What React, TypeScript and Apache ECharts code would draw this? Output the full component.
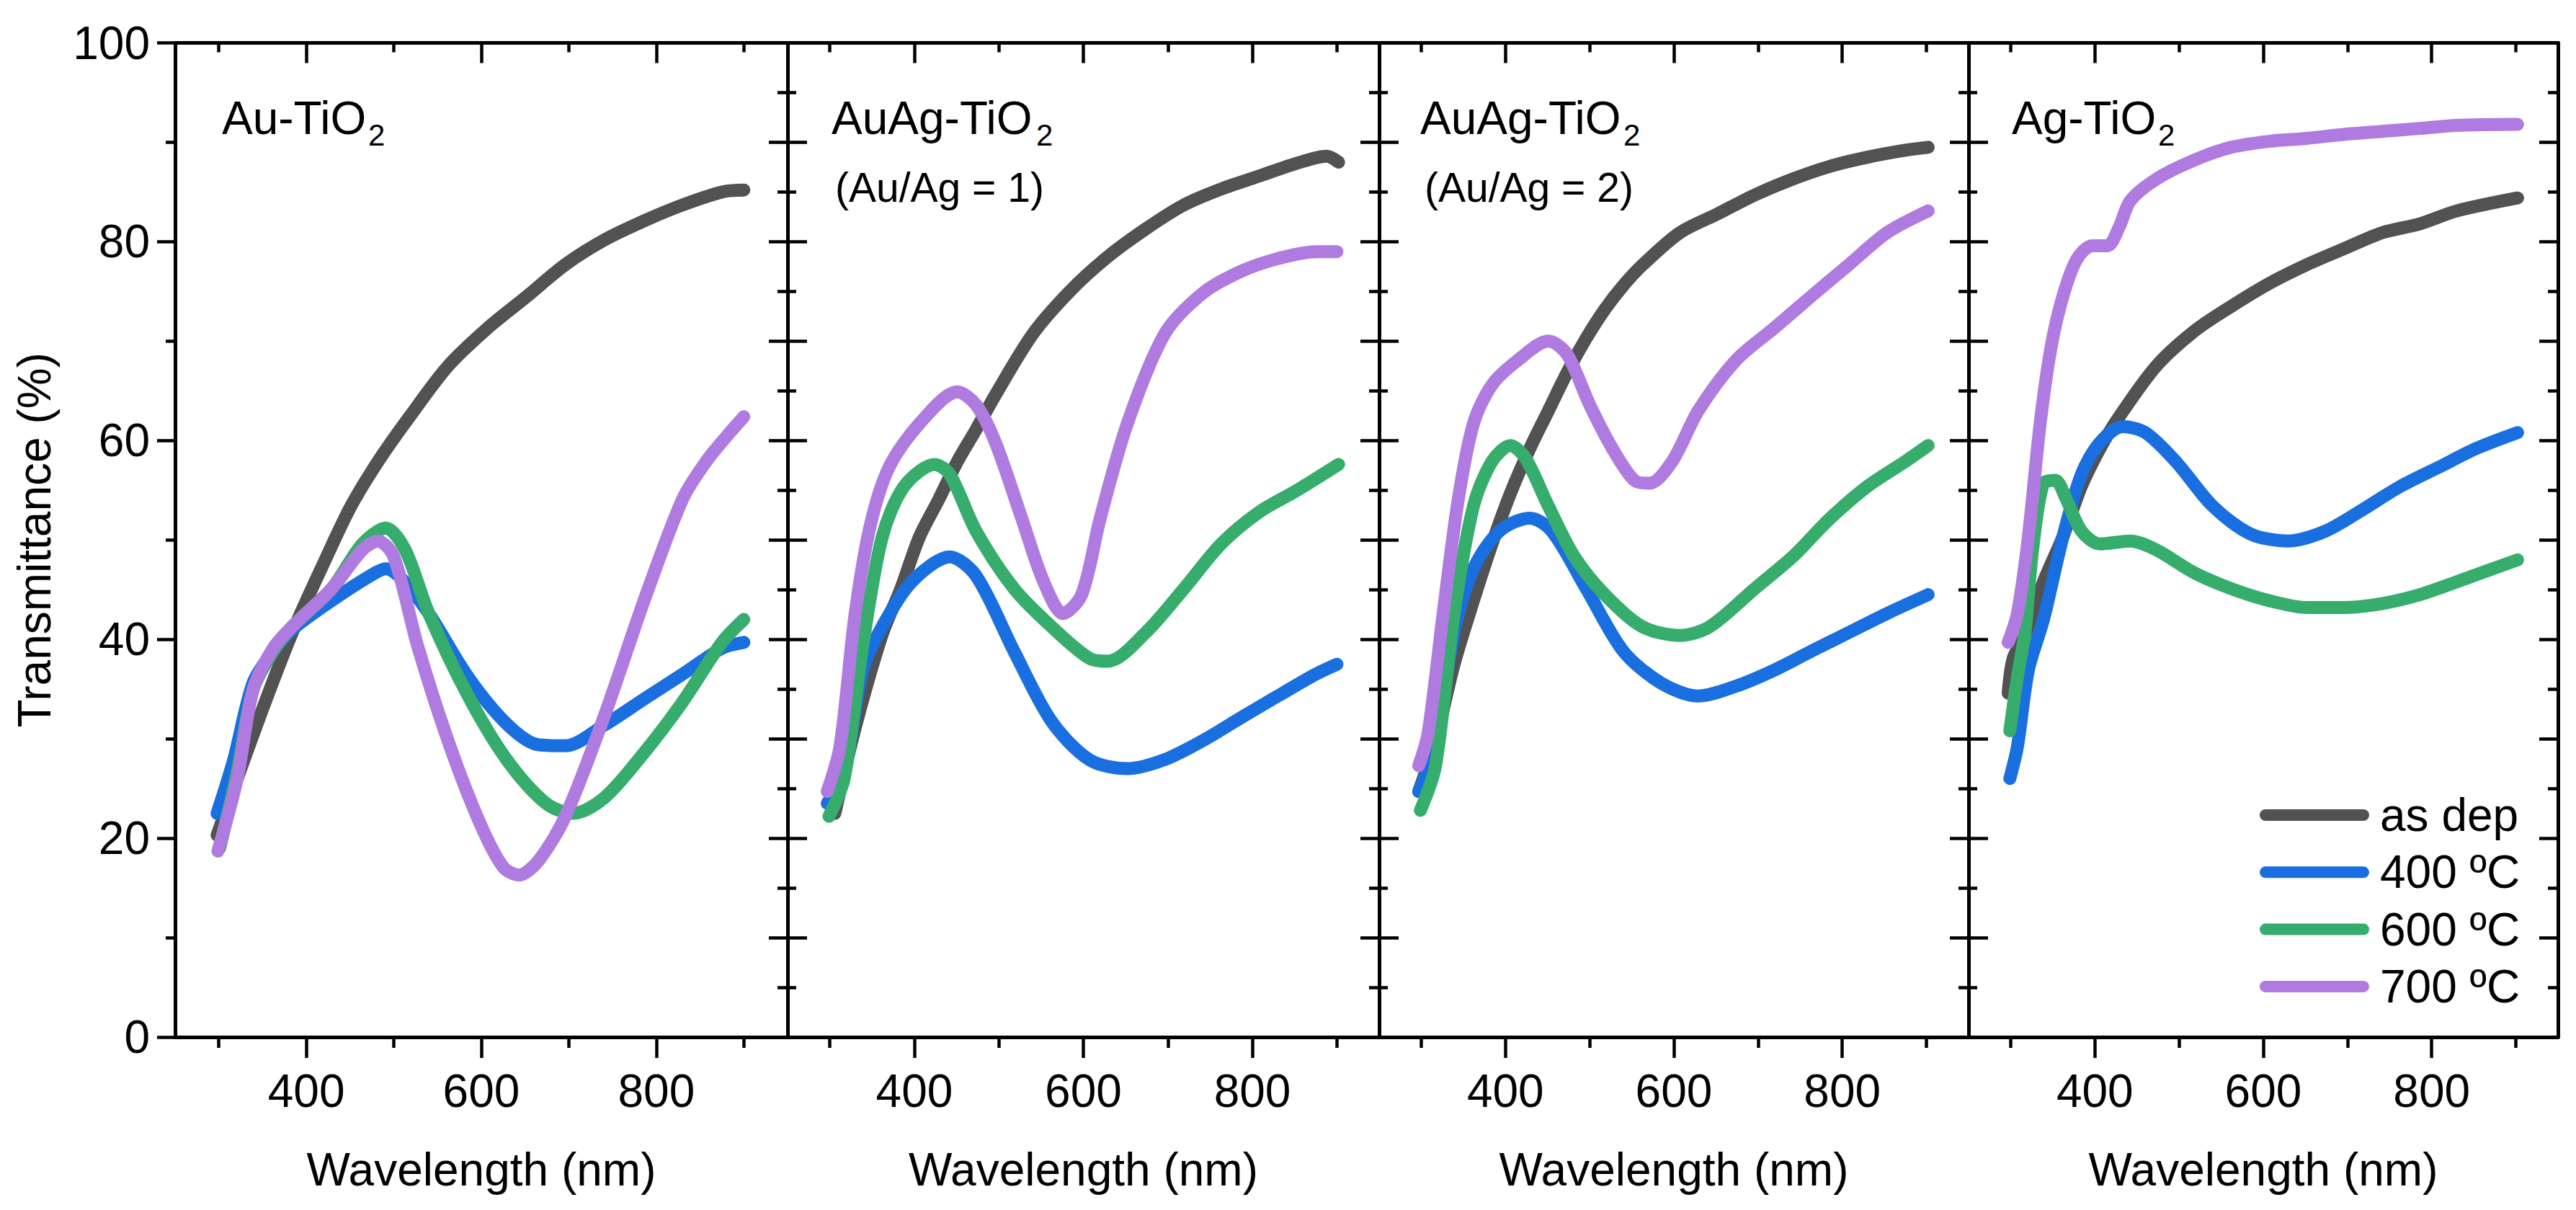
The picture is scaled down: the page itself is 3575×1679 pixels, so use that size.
import React, { useEffect, useRef } from "react";
import * as echarts from "echarts";

// ---------- data ----------
const SERIES_NAMES = ["as dep", "400 ºC", "600 ºC", "700 ºC"];
const SERIES_COLORS = ["#525252", "#1a6fe0", "#36ad6c", "#b07be0"];
const PANEL_TITLES = ["Au-TiO", "AuAg-TiO", "AuAg-TiO", "Ag-TiO"];
const PANEL_SUBSCRIPT = "2";
const PANEL_SUBTITLES = ["", "(Au/Ag = 1)", "(Au/Ag = 2)", ""];
const X_MIN = 250;
const X_MAX = 950;
const X_MAJOR = [400, 600, 800];
const X_MINOR = [300, 500, 700, 900];
const Y_MIN = 0;
const Y_MAX = 100;
const X_LABEL = "Wavelength (nm)";
const Y_LABEL = "Transmittance (%)";

// Panel 1: Au-TiO2
const auAsDep = [[298,20.3],[321,26.0],[353,33.7],[384,40.7],[420,47.7],[451,53.4],[482,57.9],[518,62.4],[562,67.5],[607,71.3],[652,74.5],[696,77.7],[741,80.2],[786,82.1],[830,83.7],[875,85.0],[900,85.2]];
const au400 = [[298,22.5],[317,27.9],[339,35.6],[362,38.8],[384,41.0],[429,43.9],[473,46.4],[491,47.1],[509,46.1],[540,42.6],[585,36.2],[629,31.5],[665,29.4],[696,29.3],[741,31.4],[786,34.0],[830,36.5],[875,39.1],[900,39.7]];
const au600 = [[301,19.0],[321,26.7],[339,34.9],[362,38.8],[384,41.3],[429,45.1],[464,49.6],[491,51.2],[513,49.0],[540,42.6],[585,34.3],[629,27.9],[674,23.5],[705,22.5],[741,24.1],[786,28.6],[830,33.7],[875,39.7],[900,42.0]];
const au700 = [[299,18.7],[321,26.0],[339,34.9],[362,39.1],[384,41.3],[429,45.1],[464,49.0],[482,49.9],[500,48.3],[527,39.4],[562,29.8],[598,21.6],[625,17.1],[643,16.3],[665,17.7],[696,22.2],[741,32.4],[786,43.9],[830,54.1],[857,57.9],[884,60.8],[900,62.4]];

// Panel 2: AuAg-TiO2 (Au/Ag = 1)
const r1AsDep = [[306,22.5],[330,31.1],[362,40.5],[384,45.1],[406,50.3],[429,54.1],[451,57.9],[473,61.1],[496,64.6],[540,70.7],[585,75.1],[629,78.5],[674,81.3],[719,83.7],[763,85.3],[808,86.6],[853,87.9],[888,88.6],[902,88.0]];
const r1400 = [[297,23.5],[317,26.7],[339,36.9],[362,41.3],[397,45.8],[442,48.3],[473,46.4],[518,38.8],[562,31.8],[607,27.9],[652,27.0],[696,27.9],[741,29.8],[786,32.1],[830,34.3],[875,36.5],[900,37.5]];
const r1600 = [[299,22.2],[317,26.0],[339,39.4],[362,50.3],[388,55.4],[424,57.6],[442,56.6],[473,50.9],[518,45.1],[562,41.3],[607,38.1],[629,37.8],[674,40.7],[719,45.1],[763,49.6],[808,52.8],[853,55.0],[902,57.6]];
const r1700 = [[297,24.7],[312,29.2],[330,42.6],[348,51.5],[370,57.3],[406,61.7],[451,64.9],[473,63.6],[496,59.8],[527,52.2],[553,45.8],[576,42.6],[598,44.5],[620,52.2],[652,61.7],[696,70.7],[741,74.8],[786,77.0],[830,78.3],[875,79.0],[900,79.0]];

// Panel 3: AuAg-TiO2 (Au/Ag = 2)
const r2AsDep = [[297,24.7],[317,29.8],[339,37.5],[362,43.9],[384,49.6],[406,54.7],[429,59.2],[451,63.0],[473,66.8],[496,70.3],[518,73.2],[540,75.6],[562,77.6],[607,80.9],[652,82.8],[696,84.7],[741,86.3],[786,87.6],[830,88.5],[875,89.2],[902,89.5]];
const r2400 = [[297,24.7],[317,29.2],[339,40.7],[362,47.1],[393,50.9],[429,52.2],[455,50.9],[496,45.1],[540,38.8],[585,35.6],[629,34.3],[674,35.3],[719,36.9],[763,38.8],[808,40.7],[853,42.6],[902,44.5]];
const r2600 = [[299,22.8],[317,27.3],[339,42.6],[362,53.4],[384,57.9],[406,59.5],[424,58.2],[451,53.4],[482,48.3],[518,44.5],[562,41.3],[607,40.4],[643,41.3],[696,45.1],[741,48.3],[786,52.2],[830,55.4],[875,57.9],[902,59.5]];
const r2700 = [[297,27.3],[308,30.5],[326,42.6],[344,54.1],[362,61.7],[384,65.6],[415,68.1],[451,70.0],[473,68.7],[500,63.6],[527,59.2],[553,56.0],[571,55.7],[598,57.9],[629,63.0],[674,68.1],[719,71.3],[763,74.5],[808,77.7],[853,80.9],[902,83.1]];

// Panel 4: Ag-TiO2
const agAsDep = [[297,34.6],[303,38.1],[317,40.4],[339,45.8],[362,50.3],[384,55.4],[406,59.2],[429,62.4],[473,67.5],[518,71.0],[562,73.5],[607,75.8],[652,77.7],[696,79.3],[741,80.9],[786,81.8],[830,83.1],[902,84.4]];
const ag400 = [[299,26.0],[308,29.2],[321,36.9],[339,42.0],[362,50.3],[384,56.6],[406,59.8],[433,61.4],[460,60.8],[496,57.9],[540,53.4],[585,50.6],[629,49.9],[674,50.9],[719,53.1],[763,55.4],[808,57.3],[853,59.2],[902,60.8]];
const ag600 = [[299,30.8],[308,36.2],[317,40.7],[326,49.0],[339,55.7],[353,56.0],[366,54.1],[384,50.9],[406,49.6],[442,49.9],[473,49.0],[518,46.7],[562,45.1],[607,43.9],[652,43.2],[696,43.2],[741,43.6],[786,44.5],[830,45.8],[902,48.0]];
const ag700 = [[297,39.7],[308,42.6],[321,50.3],[335,61.7],[348,69.4],[362,74.5],[379,78.3],[397,79.6],[415,79.6],[429,81.5],[442,84.1],[473,86.3],[518,88.2],[562,89.5],[607,90.1],[652,90.4],[696,90.8],[741,91.1],[786,91.4],[830,91.7],[902,91.8]];

const PANEL_DATA = [
  [auAsDep, au400, au600, au700],
  [r1AsDep, r1400, r1600, r1700],
  [r2AsDep, r2400, r2600, r2700],
  [agAsDep, ag400, ag600, ag700],
];

// ---------- layout / style ----------
const W = 3575;
const H = 1679;
const FONT = '"Liberation Sans", Arial, Helvetica, sans-serif';
const GRID_LEFT = [243, 1093, 1914, 2732];
const GRID_WIDTH = [850, 821, 818, 818];
const GRID_TOP = 59.5;
const GRID_HEIGHT = 1379.5;
const AXIS_W = 5;
const TICK_W = 4.5;
const LINE_W = 18;
const TITLE_X = [308, 1154, 1971, 2792];
const SUB_X = [511, 1438, 2253, 2995];
const SUBTITLE_X = [0, 1159, 1977, 0];

function buildOption() {
  const grid: any[] = [];
  const xAxis: any[] = [];
  const yAxis: any[] = [];
  const series: any[] = [];
  const graphic: any[] = [];

  const lineStyle = { color: "#000", width: AXIS_W };
  const tickStyle = { color: "#000", width: TICK_W };

  for (let g = 0; g < 4; g++) {
    grid.push({
      left: GRID_LEFT[g],
      top: GRID_TOP,
      width: GRID_WIDTH[g],
      height: GRID_HEIGHT,
      containLabel: false,
      outerBoundsMode: "none",
    });
    const baseX = {
      type: "value",
      gridIndex: g,
      min: X_MIN,
      max: X_MAX,
      splitLine: { show: false },
      minorTick: { show: false },
      minorSplitLine: { show: false },
    };
    xAxis.push({
      ...baseX,
      position: "bottom",
      axisLine: { show: true, onZero: false, lineStyle },
      axisTick: { show: true, inside: false, length: 29, lineStyle: tickStyle, customValues: X_MAJOR },
      axisLabel: {
        show: true,
        customValues: X_MAJOR,
        fontSize: 64,
        lineHeight: 64,
        fontFamily: FONT,
        color: "#000",
        margin: 43,
      },
      name: X_LABEL,
      nameLocation: "middle",
      nameGap: 152,
      nameTextStyle: { fontSize: 64, lineHeight: 64, fontFamily: FONT, color: "#000" },
    });
    xAxis.push({
      ...baseX,
      position: "bottom",
      axisLine: { show: false, onZero: false },
      axisTick: { show: true, inside: false, length: 15, lineStyle: tickStyle, customValues: X_MINOR },
      axisLabel: { show: false },
    });
    xAxis.push({
      ...baseX,
      position: "top",
      axisLine: { show: true, onZero: false, lineStyle },
      axisTick: { show: true, inside: true, length: 28, lineStyle: tickStyle, customValues: X_MAJOR },
      axisLabel: { show: false },
    });
    xAxis.push({
      ...baseX,
      position: "top",
      axisLine: { show: false, onZero: false },
      axisTick: { show: true, inside: true, length: 13, lineStyle: tickStyle, customValues: X_MINOR },
      axisLabel: { show: false },
    });

    const baseY = {
      type: "value",
      gridIndex: g,
      min: Y_MIN,
      max: Y_MAX,
      splitLine: { show: false },
      minorSplitLine: { show: false },
    };
    if (g === 0) {
      yAxis.push({
        ...baseY,
        position: "left",
        interval: 20,
        axisLine: { show: true, onZero: false, lineStyle },
        axisTick: { show: true, inside: false, length: 25, lineStyle: tickStyle },
        minorTick: { show: true, splitNumber: 2, length: 13, lineStyle: tickStyle },
        axisLabel: {
          show: true,
          fontSize: 64,
          lineHeight: 64,
          fontFamily: FONT,
          color: "#000",
          margin: 35,
        },
        name: Y_LABEL,
        nameLocation: "middle",
        nameGap: 163,
        nameTextStyle: { fontSize: 64, lineHeight: 64, fontFamily: FONT, color: "#000" },
      });
    } else {
      yAxis.push({
        ...baseY,
        position: "left",
        interval: 10,
        axisLine: { show: true, onZero: false, lineStyle },
        axisTick: { show: true, inside: true, length: 27, lineStyle: tickStyle },
        minorTick: { show: true, splitNumber: 2, length: 12, lineStyle: tickStyle },
        axisLabel: { show: false },
      });
    }
    yAxis.push({
      ...baseY,
      position: "right",
      interval: 10,
      axisLine: { show: true, onZero: false, lineStyle },
      axisTick: { show: true, inside: true, length: 26, lineStyle: tickStyle },
      minorTick: { show: true, splitNumber: 2, length: 14, lineStyle: tickStyle },
      axisLabel: { show: false },
    });

    PANEL_DATA[g].forEach((data, s) => {
      series.push({
        type: "line",
        name: SERIES_NAMES[s],
        xAxisIndex: 4 * g,
        yAxisIndex: 2 * g,
        data,
        symbol: "none",
        showSymbol: false,
        smooth: 0.3,
        color: SERIES_COLORS[s],
        itemStyle: { color: SERIES_COLORS[s] },
        lineStyle: { color: SERIES_COLORS[s], width: LINE_W, cap: "round", join: "round" },
        z: 3 + s,
        silent: true,
      });
    });

    graphic.push({
      type: "text",
      x: TITLE_X[g],
      y: 163.8,
      style: {
        text: PANEL_TITLES[g],
        font: `64px ${FONT}`,
        fill: "#000",
        textAlign: "left",
        textVerticalAlign: "middle",
      },
    });
    graphic.push({
      type: "text",
      x: SUB_X[g],
      y: 187.4,
      style: {
        text: PANEL_SUBSCRIPT,
        font: `42px ${FONT}`,
        fill: "#000",
        textAlign: "left",
        textVerticalAlign: "middle",
      },
    });
    if (PANEL_SUBTITLES[g]) {
      graphic.push({
        type: "text",
        x: SUBTITLE_X[g],
        y: 260.2,
        style: {
          text: PANEL_SUBTITLES[g],
          font: `57px ${FONT}`,
          fill: "#000",
          textAlign: "left",
          textVerticalAlign: "middle",
        },
      });
    }
  }

  return {
    animation: false,
    backgroundColor: "#fff",
    textStyle: { fontFamily: FONT },
    grid,
    xAxis,
    yAxis,
    series,
    graphic,
    tooltip: { show: false },
    legend: {
      show: true,
      data: SERIES_NAMES,
      orient: "vertical",
      left: 3136,
      top: 1099,
      padding: 0,
      itemWidth: 152,
      itemHeight: 16,
      itemGap: 15.3,
      selectedMode: false,
      icon: "path://M8 0H144A8 8 0 0 1 144 16H8A8 8 0 0 1 8 0Z",
      itemStyle: { borderWidth: 0 },
      textStyle: { fontSize: 64, lineHeight: 64, fontFamily: FONT, color: "#000", padding: [0, 0, 0, 10] },
    },
  };
}

export default function App() {
  const ref = useRef<HTMLDivElement>(null);
  useEffect(() => {
    if (!ref.current) return;
    const chart = echarts.init(ref.current, undefined, { renderer: "svg", width: W, height: H });
    chart.setOption(buildOption() as any);
    return () => chart.dispose();
  }, []);
  return (
    <div
      ref={ref}
      style={{ position: "absolute", left: 0, top: 0, width: W, height: H, background: "#fff" }}
    />
  );
}
